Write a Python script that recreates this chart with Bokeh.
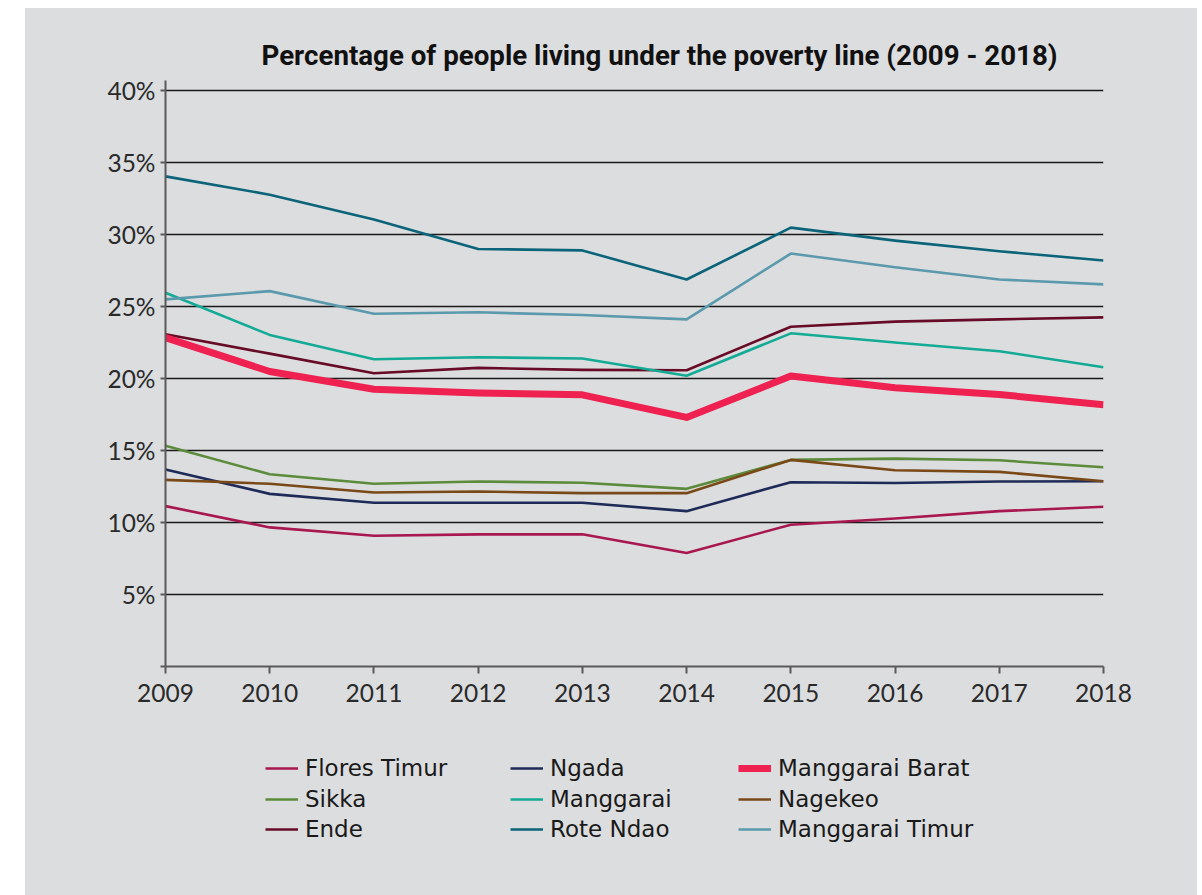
from bokeh.plotting import figure
from bokeh.models import (FixedTicker, Legend, LegendItem, Spacer, Range1d)
from bokeh.layouts import row, column
from bokeh.embed import file_html
from bokeh.resources import INLINE

years = [2009, 2010, 2011, 2012, 2013, 2014, 2015, 2016, 2017, 2018]

flores_timur = [11.14, 9.66, 9.08, 9.18, 9.18, 7.88, 9.85, 10.28, 10.79, 11.09]
sikka = [15.34, 13.35, 12.69, 12.85, 12.76, 12.34, 14.35, 14.44, 14.32, 13.84]
ende = [23.07, 21.73, 20.37, 20.74, 20.60, 20.58, 23.60, 23.95, 24.11, 24.25]
ngada = [13.68, 11.99, 11.37, 11.37, 11.37, 10.79, 12.80, 12.75, 12.85, 12.87]
manggarai = [25.96, 23.03, 21.34, 21.48, 21.39, 20.19, 23.14, 22.50, 21.90, 20.79]
rote_ndao = [34.04, 32.77, 31.04, 29.00, 28.90, 26.88, 30.48, 29.58, 28.84, 28.20]
manggarai_barat = [22.84, 20.49, 19.26, 18.99, 18.87, 17.30, 20.17, 19.36, 18.89, 18.18]
nagekeo = [12.96, 12.69, 12.08, 12.15, 12.04, 12.04, 14.35, 13.63, 13.52, 12.87]
manggarai_timur = [25.50, 26.07, 24.50, 24.60, 24.41, 24.11, 28.68, 27.73, 26.88, 26.54]

y_ticks = [0, 5, 10, 15, 20, 25, 30, 35, 40]
y_tick_labels = ["", "5%", "10%", "15%", "20%", "25%", "30%", "35%", "40%"]

series = [
    ("Flores Timur", flores_timur, "#a8174f", 2.6),
    ("Sikka", sikka, "#5b8b3b", 2.6),
    ("Ende", ende, "#670b27", 2.6),
    ("Ngada", ngada, "#1e2a58", 2.6),
    ("Manggarai", manggarai, "#13ab95", 2.6),
    ("Rote Ndao", rote_ndao, "#0b6479", 2.6),
    ("Manggarai Barat", manggarai_barat, "#ee2150", 7),
    ("Nagekeo", nagekeo, "#7a4918", 2.6),
    ("Manggarai Timur", manggarai_timur, "#5b99ad", 2.6),
]

BG = "#dcdddf"
TICK_FONT = "Lato"
LEGEND_FONT = "DejaVu Sans"

p = figure(width=1172, height=720, output_backend="svg", toolbar_location=None,
           x_range=Range1d(2009, 2018), y_range=Range1d(0, 40.7),
           min_border_left=140, min_border_right=94, min_border_top=72,
           min_border_bottom=62,
           background_fill_color=BG, border_fill_color=BG, outline_line_color=None)

p.title.text = "Percentage of people living under the poverty line (2009 - 2018)"
p.title.text_font = "Roboto"
p.title.text_font_style = "bold"
p.title.text_font_size = "27.7px"
p.title.text_color = "#111111"
p.title.align = "left"
p.title.offset = 96
p.title.standoff = 17

# axes
p.xaxis.ticker = FixedTicker(ticks=years)
p.xaxis.major_label_overrides = {y: str(y) for y in years}
p.yaxis.ticker = FixedTicker(ticks=y_ticks)
p.yaxis.major_label_overrides = {t: l for t, l in zip(y_ticks, y_tick_labels)}
for ax in (p.xaxis[0], p.yaxis[0]):
    ax.axis_line_color = "#5a5a5a"
    ax.axis_line_width = 2
    ax.major_tick_line_color = "#5a5a5a"
    ax.major_tick_line_width = 2
    ax.major_tick_in = 0
    ax.minor_tick_line_color = None
    ax.major_label_text_font = TICK_FONT
    ax.major_label_text_font_size = "24.5px"
    ax.major_label_text_color = "#2a2a2a"
p.xaxis.major_tick_out = 7
p.xaxis.major_label_standoff = 10
p.yaxis.major_tick_out = 5
p.yaxis.major_label_standoff = 5

p.xgrid.grid_line_color = None
p.ygrid.ticker = FixedTicker(ticks=y_ticks[1:])
p.ygrid.grid_line_color = "#1a1a1a"
p.ygrid.grid_line_width = 1.5

for name, vals, color, lw in series:
    p.line(years, vals, line_color=color, line_width=lw, line_join="round")

# legend panel (separate figure below the chart; its frame is aligned with the chart's)
lg = figure(width=1172, height=167, output_backend="svg", toolbar_location=None,
            x_range=Range1d(0, 1), y_range=Range1d(0, 1),
            x_axis_type=None, y_axis_type=None,
            min_border=0, min_border_top=0, min_border_bottom=0,
            background_fill_alpha=0, border_fill_color=BG, outline_line_color=None)
lg.xgrid.grid_line_color = None
lg.ygrid.grid_line_color = None

legend_renderers = {}
for name, vals, color, lw in series:
    # same series, drawn off-range: only used for the legend swatches
    legend_renderers[name] = lg.line(years, vals, line_color=color, line_width=lw)

col_names = [["Flores Timur", "Sikka", "Ende"],
             ["Ngada", "Manggarai", "Rote Ndao"],
             ["Manggarai Barat", "Nagekeo", "Manggarai Timur"]]
col_x = [100, 345, 573]
row_y = [113, 82, 52]
for names, x in zip(col_names, col_x):
    for n, y in zip(names, row_y):
        leg = Legend(items=[LegendItem(label=n, renderers=[legend_renderers[n]])],
                     location=(x, y), orientation="vertical",
                     padding=0, margin=0, spacing=0,
                     glyph_width=33, glyph_height=28, label_height=28,
                     label_standoff=7, label_text_font=LEGEND_FONT,
                     label_text_font_size="23px", label_text_color="#1a1a1a",
                     border_line_color=None, background_fill_alpha=0)
        lg.add_layout(leg, "center")

chart = column(Spacer(width=1172, height=8), p, lg, spacing=0)
layout = row(Spacer(width=25, height=895), chart, spacing=0)
chart.styles = {"background-color": "white"}
p.styles = {"background-color": BG}
lg.styles = {"background-color": BG}
open("out.html", "w").write(file_html(layout, INLINE))
